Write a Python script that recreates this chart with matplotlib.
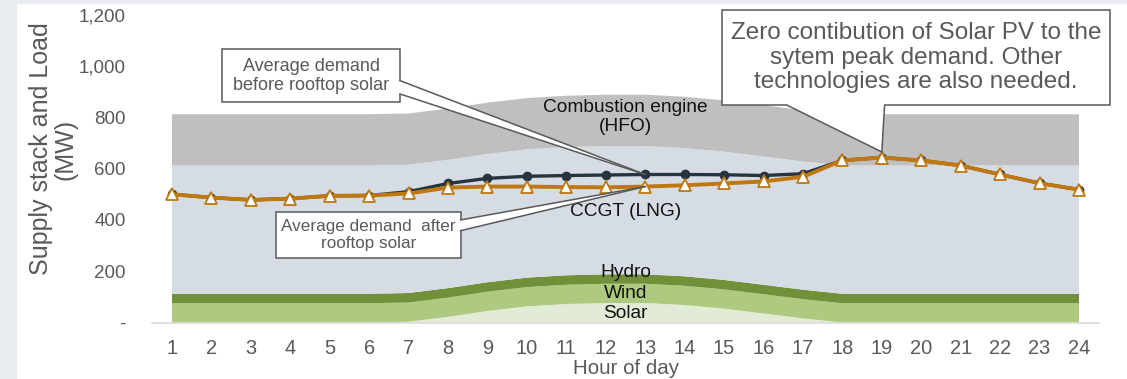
import matplotlib
matplotlib.use("Agg")
import matplotlib.pyplot as plt
from matplotlib.patches import Rectangle, Polygon
import numpy as np

plt.rcParams['font.family'] = ['Liberation Sans', 'DejaVu Sans']

hours = list(range(1, 25))
solar = [0, 0, 0, 0, 0, 0, 3, 22, 45, 63, 72, 76, 76, 68, 54, 35, 16, 0, 0, 0, 0, 0, 0, 0]
wind = [75] * 24
hydro = [37] * 24
ccgt = [500] * 24
hfo = [200] * 24
demand_before = [500, 487, 478, 483, 494, 495, 510, 542, 562, 570, 573, 575, 577, 577, 576, 573, 580,
                 632, 643, 632, 612, 577, 543, 518]
demand_after = [500, 487, 478, 483, 494, 495, 503, 526, 530, 530, 528, 527, 530, 535, 542, 550, 568,
                 632, 643, 632, 612, 577, 543, 518]
yticks = [0, 200, 400, 600, 800, 1000, 1200]
ytick_labels = ['-', '200', '400', '600', '800', '1,000', '1,200']

W, H = 1127, 379
fig = plt.figure(figsize=(W / 100, H / 100), dpi=100)
fig.patch.set_facecolor('white')
fig.patches.append(Rectangle((0, 0), 16 / W, 1, transform=fig.transFigure, color='#E9ECF1', zorder=0))
fig.patches.append(Rectangle((0, 1 - 3 / H), 1, 3 / H, transform=fig.transFigure, color='#E9ECF1', zorder=0))

ax = fig.add_axes([152.3 / W, 56.5 / H, (1098.7 - 152.3) / W, (322.5 - 14.7) / H])
ax.set_facecolor('none')

x = np.array(hours)
ax.stackplot(x, solar, wind, hydro, ccgt, hfo,
             colors=['#E2EBD5', '#ADCA80', '#71903A', '#D6DCE4', '#BFBFBF'], linewidth=0, zorder=1)

ax.plot(x, demand_before, color='#26343F', lw=2.4, marker='o', ms=6, zorder=3)
ax.plot(x, demand_after, color='#BF770F', lw=2.8, marker='^', ms=8, mfc='white', mec='#BF770F', mew=1.3,
        zorder=4)

ax.set_xlim(0.5, 24.5)
ax.set_ylim(0, 1200)
ax.set_xticks(hours)
ax.set_xticklabels([str(h) for h in hours])
ax.set_yticks(yticks)
ax.set_yticklabels(ytick_labels)
ax.tick_params(axis='both', length=0, labelcolor='#595959')
ax.tick_params(axis='x', pad=12, labelsize=14.4)
ax.tick_params(axis='y', pad=19, labelsize=13.5)
for s in ['top', 'right', 'left']:
    ax.spines[s].set_visible(False)
ax.spines['bottom'].set_color('#D9D9D9')
ax.spines['bottom'].set_linewidth(1.2)

# area labels
tc = '#111111'
afs = 13.8
ax.text(12.5, 800, 'Combustion engine\n(HFO)', ha='center', va='center', fontsize=afs, color=tc,
        linespacing=1.15, zorder=5)
ax.text(12.5, 434, 'CCGT (LNG)', ha='center', va='center', fontsize=afs, color=tc, zorder=5)
ax.text(12.5, 193, 'Hydro', ha='center', va='center', fontsize=afs, color=tc, zorder=5)
ax.text(12.5, 115, 'Wind', ha='center', va='center', fontsize=afs, color=tc, zorder=5)
ax.text(12.5, 37, 'Solar', ha='center', va='center', fontsize=afs, color=tc, zorder=5)


def callout(x0, x1, y0, y1, base, tip, text, fs, ls=1.15):
    ec = '#595959'
    box = Rectangle((x0, y0), x1 - x0, y1 - y0, facecolor='white', edgecolor=ec, lw=1.1,
                    zorder=6, clip_on=False)
    ax.add_patch(box)
    (bx1, by1), (bx2, by2) = base
    if bx1 == bx2:
        inner = [(bx1 - 0.06, by1), (bx2 - 0.06, by2)]
    else:
        inner = [(bx1, by1 + 6), (bx2, by2 + 6)]
    poly = Polygon([inner[0], (bx1, by1), tip, (bx2, by2), inner[1]], closed=True,
                   facecolor='white', edgecolor='none', zorder=7, clip_on=False)
    ax.add_patch(poly)
    ax.plot([bx1, tip[0]], [by1, tip[1]], color=ec, lw=1.1, zorder=8, clip_on=False)
    ax.plot([bx2, tip[0]], [by2, tip[1]], color=ec, lw=1.1, zorder=8, clip_on=False)
    ax.text((x0 + x1) / 2, (y0 + y1) / 2, text, ha='center', va='center', fontsize=fs,
            color=ec, linespacing=ls, zorder=9, clip_on=False)


callout(2.27, 6.78, 860, 1065, [(6.78, 943), (6.78, 891)], (13, demand_before[12]),
        'Average demand\nbefore rooftop solar', 13)
callout(3.64, 8.32, 253, 430, [(8.32, 400), (8.32, 358)], (13, demand_after[12]),
        'Average demand  after\nrooftop solar', 12.3)
callout(14.95, 24.79, 847, 1218, [(16.6, 847), (19.07, 847)], (19, demand_after[18] + 22),
        'Zero contibution of Solar PV to the\nsytem peak demand. Other\ntechnologies are also needed.',
        17.5, 1.15)

fig.text(53.5 / W, 1 - 149 / H, 'Supply stack and Load\n(MW)', rotation=90, ha='center', va='center',
         fontsize=18, color='#595959', linespacing=1.05, multialignment='center')
fig.text(626 / W, 1 - 369 / H, 'Hour of day', ha='center', va='center', fontsize=14.8, color='#595959')

fig.savefig('out.png', dpi=100)
